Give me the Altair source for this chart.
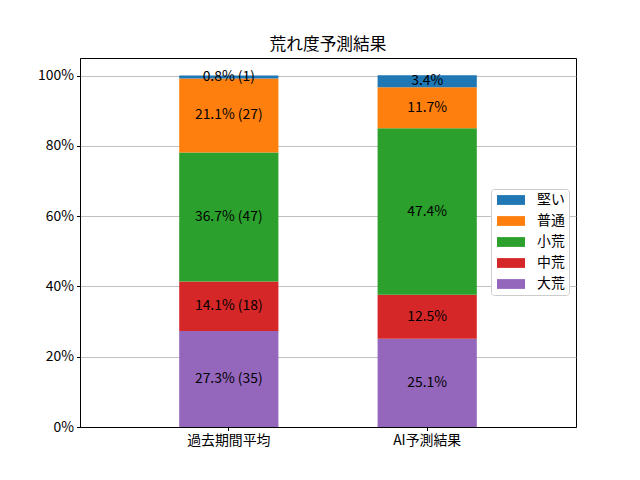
import altair as alt
import pandas as pd

groups = ["過去期間平均", "AI予測結果"]
levels = ["大荒", "中荒", "小荒", "普通", "堅い"]  # stacked bottom -> top
past_pct = [27.3, 14.1, 36.7, 21.1, 0.8]
past_cnt = [35, 18, 47, 27, 1]
ai_pct = [25.1, 12.5, 47.4, 11.7, 3.4]
legend_order = ["堅い", "普通", "小荒", "中荒", "大荒"]
legend_colors = ["#1f77b4", "#ff7f0e", "#2ca02c", "#d62728", "#9467bd"]
y_ticks = [0, 20, 40, 60, 80, 100]

rows = []
for g, pcts, cnts in [(groups[0], past_pct, past_cnt), (groups[1], ai_pct, [None] * 5)]:
    base = 0.0
    for lev, p, c in zip(levels, pcts, cnts):
        label = f"{p:.1f}% ({c})" if c is not None else f"{p:.1f}%"
        rows.append({"group": g, "level": lev, "y0": base, "y1": base + p,
                     "mid": base + p / 2, "label": label})
        base += p
df = pd.DataFrame(rows)

FONT = "Noto Sans CJK JP"

x_enc = alt.X("group:N", sort=groups, title=None,
              scale=alt.Scale(paddingInner=0.5, paddingOuter=0.5),
              axis=alt.Axis(labelAngle=0))

bars = alt.Chart(df).mark_bar().encode(
    x=x_enc,
    y=alt.Y("y0:Q", title=None, scale=alt.Scale(domain=[0, 105], nice=False),
            axis=alt.Axis(values=y_ticks, labelExpr="datum.value + '%'", grid=True)),
    y2="y1:Q",
    color=alt.Color("level:N", title=None,
                    scale=alt.Scale(domain=legend_order, range=legend_colors),
                    legend=alt.Legend(orient="none", legendX=411, legendY=131,
                                      symbolType="M-2,-0.7L2,-0.7L2,0.7L-2,0.7Z",
                                      symbolSize=196, symbolStrokeWidth=0,
                                      symbolOffset=9,
                                      labelFontSize=13.9, labelFont=FONT,
                                      labelOffset=19, rowPadding=7,
                                      padding=4, strokeColor="#cccccc",
                                      fillColor="white", cornerRadius=3)),
)

texts = alt.Chart(df).mark_text(fontSize=13.9, font=FONT, color="black",
                                baseline="middle", align="center").encode(
    x=alt.X("group:N", sort=groups),
    y=alt.Y("mid:Q"),
    text="label:N",
)

chart = (bars + texts).properties(
    width=496, height=369,
    title=alt.TitleParams("荒れ度予測結果", fontSize=16.7, font=FONT, fontWeight="normal",
                          color="black", offset=4),
    autosize=alt.AutoSizeParams(type="none"),
    padding={"left": 72, "top": 50, "right": 56, "bottom": 45},
).configure_view(stroke="black", strokeWidth=1).configure_axis(
    labelFont=FONT, labelFontSize=13.9, labelColor="black",
    domainColor="black", tickColor="black", tickSize=3.5, labelPadding=3,
    gridColor="#b0b0b0", gridWidth=0.8,
).configure_legend(labelColor="black")

chart.save("out.html", embed_options={"renderer": "svg", "actions": False})
